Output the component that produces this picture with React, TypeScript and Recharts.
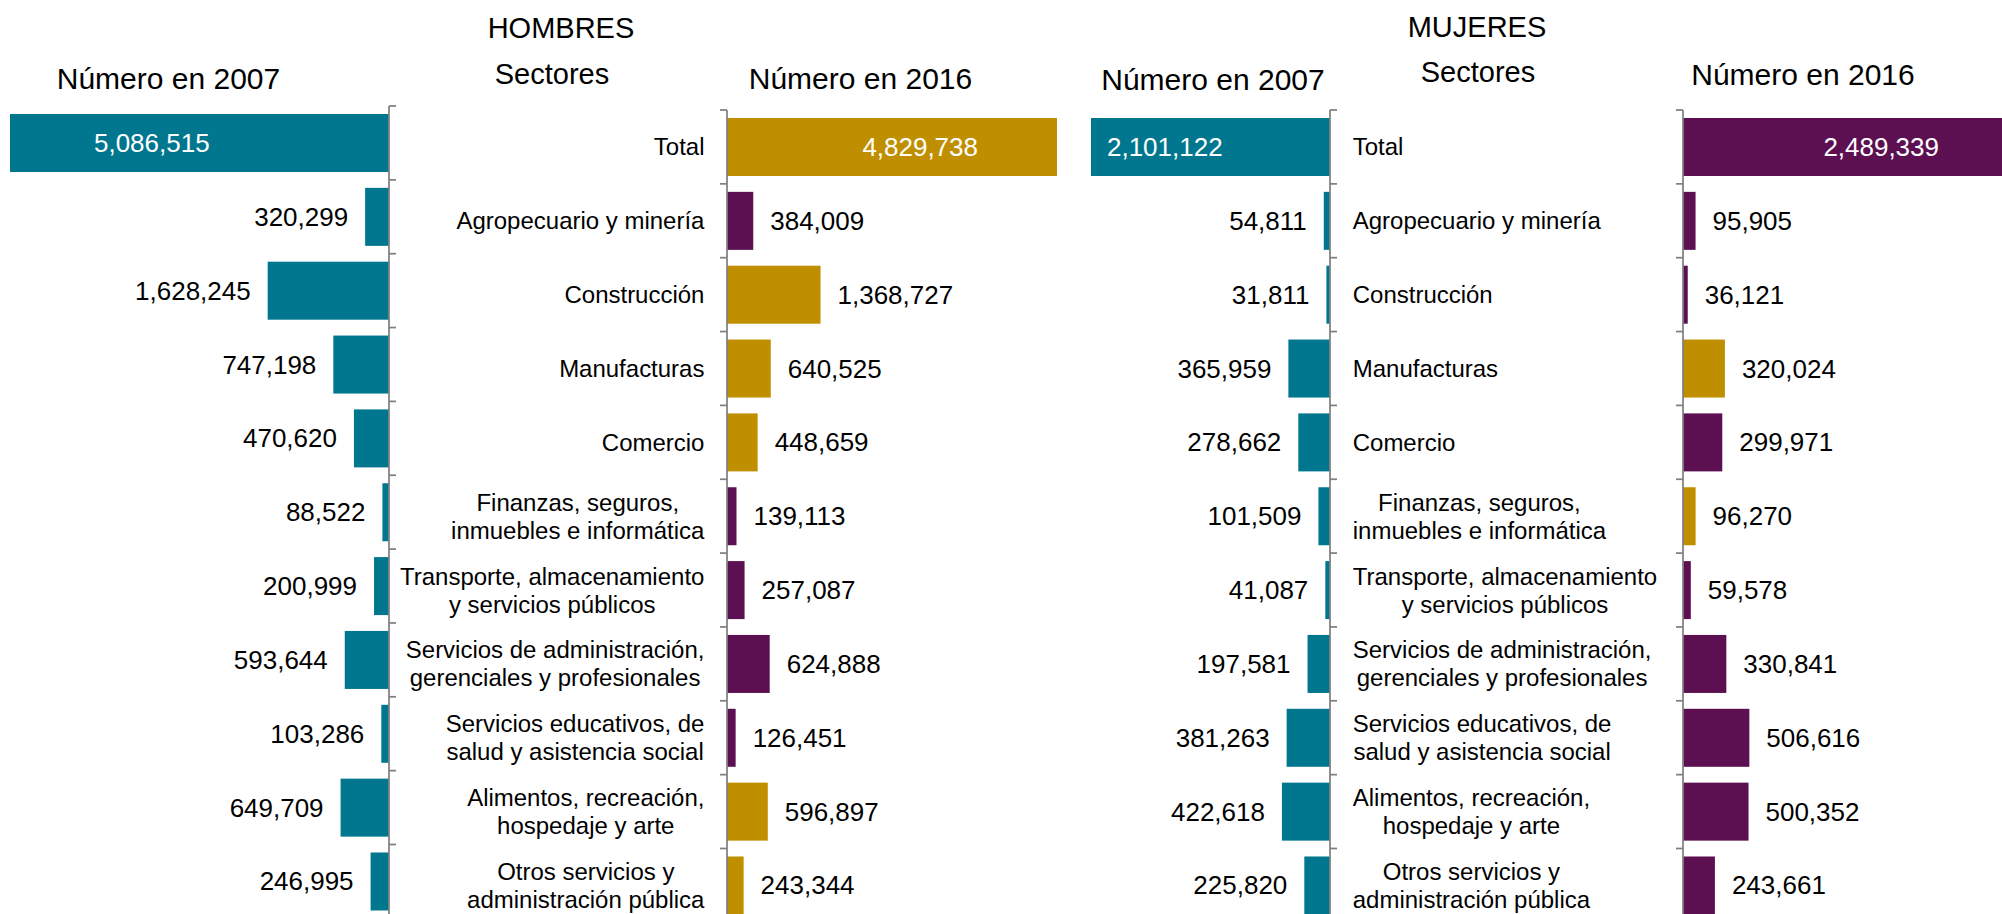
import React from 'react'
import { BarChart, Bar, XAxis, YAxis, Cell } from 'recharts'

const sectores = [
  'Total',
  'Agropecuario y minería',
  'Construcción',
  'Manufacturas',
  'Comercio',
  'Finanzas, seguros,\ninmuebles e informática',
  'Transporte, almacenamiento\ny servicios públicos',
  'Servicios de administración,\ngerenciales y profesionales',
  'Servicios educativos, de\nsalud y asistencia social',
  'Alimentos, recreación,\nhospedaje y arte',
  'Otros servicios y\nadministración pública',
]

const hombres2007 = [5086515, 320299, 1628245, 747198, 470620, 88522, 200999, 593644, 103286, 649709, 246995]
const hombres2016 = [4829738, 384009, 1368727, 640525, 448659, 139113, 257087, 624888, 126451, 596897, 243344]
const mujeres2007 = [2101122, 54811, 31811, 365959, 278662, 101509, 41087, 197581, 381263, 422618, 225820]
const mujeres2016 = [2489339, 95905, 36121, 320024, 299971, 96270, 59578, 330841, 506616, 500352, 243661]

const TEAL = '#00778F'
const GOLD = '#C08F00'
const PURPLE = '#5C1052'
const AXIS = '#808080'
const FONT = '"Liberation Sans", Arial, sans-serif'

const ROW = 73.85
const PAD = 4
const AXIS_W = 1
const CHART_H = ROW * sectores.length + PAD * 2

const fmt = (v: number): string => v.toLocaleString('en-US')

// 2016 bars: purple when the number grew, gold when it fell
const cambio = (antes: number[], despues: number[]): string[] =>
  despues.map((v, i) => (v > antes[i] ? PURPLE : GOLD))

let ctx: CanvasRenderingContext2D | null = null
const textWidth = (t: string, size: number): number => {
  if (!ctx) ctx = document.createElement('canvas').getContext('2d')
  if (!ctx) return t.length * size * 0.5
  ctx.font = `${size}px ${FONT}`
  return ctx.measureText(t).width
}

interface PanelProps {
  values: number[]
  colors: string[]
  left: number
  top: number
  width: number
  plotLeft: number
  plotWidth: number
  reversed: boolean
  insideOffset: number
  labelSide?: 'left' | 'right'
  labelEdge?: number
}

function Panel(props: PanelProps): JSX.Element {
  const { values, colors, left, top, width, plotLeft, plotWidth, reversed, insideOffset, labelSide, labelEdge = 0 } = props
  const data = sectores.map((name, i) => ({ name, value: values[i] }))
  const axisX = reversed ? plotLeft + plotWidth : plotLeft
  const dir = reversed ? 1 : -1
  const margin = reversed
    ? { top: PAD, bottom: PAD, left: plotLeft, right: width - plotLeft - plotWidth - AXIS_W }
    : { top: PAD, bottom: PAD, left: plotLeft - AXIS_W, right: width - plotLeft - plotWidth }

  const renderTick = (p: any): JSX.Element => {
    const y = p.y as number
    const lines = String(p.payload.value).split('\n')
    let label: JSX.Element | null = null
    if (labelSide) {
      const w = Math.max(...lines.map((l) => textWidth(l, 24)))
      const cx = labelSide === 'left' ? labelEdge - w / 2 : labelEdge + w / 2
      label = (
        <text x={cx} textAnchor="middle" fontSize={24} fill="#000" fontFamily={FONT}>
          {lines.map((l, i) => (
            <tspan key={i} x={cx} y={y + (i - (lines.length - 1) / 2) * 28} dominantBaseline="central">
              {l}
            </tspan>
          ))}
        </text>
      )
    }
    return (
      <g>
        <line x1={axisX} x2={axisX + dir * 7} y1={y - ROW / 2} y2={y - ROW / 2} stroke={AXIS} strokeWidth={1.75} />
        {label}
      </g>
    )
  }

  const renderBar = (p: any): JSX.Element => {
    const l = Math.min(p.x, p.x + p.width)
    const w = Math.abs(p.width)
    const cy = p.y + p.height / 2
    const inside = p.index === 0
    let tx: number
    let anchor: 'start' | 'end'
    if (inside) {
      tx = reversed ? l + insideOffset : l + w - insideOffset
      anchor = reversed ? 'start' : 'end'
    } else {
      tx = reversed ? l - 17 : l + w + 17
      anchor = reversed ? 'end' : 'start'
    }
    return (
      <g>
        <rect x={l} y={p.y} width={w} height={p.height} fill={p.fill} />
        <text x={tx} y={cy} textAnchor={anchor} dominantBaseline="central" fontSize={26} fontFamily={FONT} fill={inside ? '#fff' : '#000'}>
          {fmt(values[p.index])}
        </text>
      </g>
    )
  }

  return (
    <div style={{ position: 'absolute', left, top: top - PAD }}>
      <BarChart width={width} height={CHART_H} data={data} layout="vertical" margin={margin}>
        <XAxis type="number" hide reversed={reversed} domain={[0, Math.max(...values)]} />
        <YAxis
          type="category"
          dataKey="name"
          orientation={reversed ? 'right' : 'left'}
          width={AXIS_W}
          interval={0}
          tickLine={false}
          tickSize={0}
          tickMargin={0}
          axisLine={{ stroke: AXIS, strokeWidth: 1.75 }}
          tick={renderTick}
        />
        <Bar dataKey="value" barSize={58} isAnimationActive={false} shape={renderBar}>
          {data.map((_, i) => (
            <Cell key={i} fill={colors[i]} />
          ))}
        </Bar>
      </BarChart>
    </div>
  )
}

interface TitleProps {
  x: number
  y: number
  size: number
  children: string
}

const Title = ({ x, y, size, children }: TitleProps): JSX.Element => (
  <text x={x} y={y} textAnchor="middle" fontSize={size} fontFamily={FONT} fill="#000">
    {children}
  </text>
)

export default function App(): JSX.Element {
  return (
    <div style={{ position: 'absolute', left: 0, top: 0, width: 2002, height: 914, overflow: 'hidden', background: '#fff' }}>
      <Panel
        values={hombres2007}
        colors={hombres2007.map(() => TEAL)}
        left={0}
        top={106}
        width={401}
        plotLeft={10}
        plotWidth={379}
        reversed
        insideOffset={84}
      />
      <Panel
        values={hombres2016}
        colors={cambio(hombres2007, hombres2016)}
        left={389}
        top={110}
        width={868}
        plotLeft={338}
        plotWidth={330}
        reversed={false}
        insideOffset={79}
        labelSide="left"
        labelEdge={315.5}
      />
      <Panel
        values={mujeres2007}
        colors={mujeres2007.map(() => TEAL)}
        left={990}
        top={109.5}
        width={680}
        plotLeft={101}
        plotWidth={239}
        reversed
        insideOffset={16}
        labelSide="right"
        labelEdge={362.7}
      />
      <Panel
        values={mujeres2016}
        colors={cambio(mujeres2007, mujeres2016)}
        left={1670}
        top={109.5}
        width={439}
        plotLeft={13}
        plotWidth={326}
        reversed={false}
        insideOffset={70}
      />
      <svg width={2002} height={914} style={{ position: 'absolute', left: 0, top: 0, pointerEvents: 'none' }}>
        <Title x={561} y={38} size={29}>HOMBRES</Title>
        <Title x={168.5} y={89} size={30}>Número en 2007</Title>
        <Title x={552} y={84} size={29}>Sectores</Title>
        <Title x={860.5} y={89} size={30}>Número en 2016</Title>
        <Title x={1477} y={37} size={29}>MUJERES</Title>
        <Title x={1213} y={90} size={30}>Número en 2007</Title>
        <Title x={1478} y={82} size={29}>Sectores</Title>
        <Title x={1803} y={85} size={30}>Número en 2016</Title>
      </svg>
    </div>
  )
}
